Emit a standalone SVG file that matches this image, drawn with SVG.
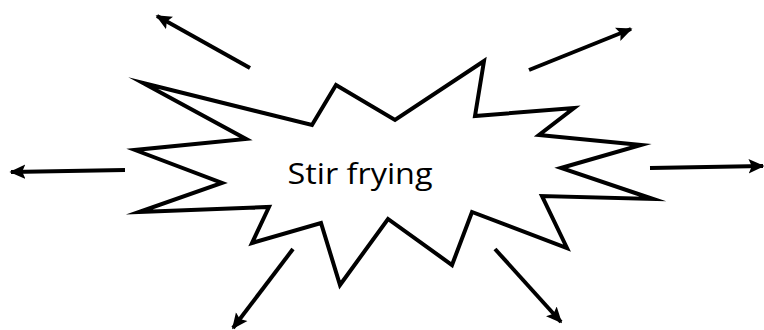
<svg xmlns="http://www.w3.org/2000/svg" width="764" height="330" viewBox="0 0 764 330">
<defs>
<marker id="ah" viewBox="0 0 10 10" refX="9" refY="5" markerWidth="4" markerHeight="4" orient="auto" markerUnits="strokeWidth">
<path d="M0,0.5 L10,5 L0,9.5 L2,5 Z" fill="#000"/>
</marker>
</defs>
<style>
.star{fill:#fff;stroke:#000;stroke-width:4;stroke-linejoin:miter;stroke-miterlimit:20}
.arr{fill:none;stroke:#000;stroke-width:4;marker-end:url(#ah)}
.lbl{font-family:"Open Sans","Liberation Sans",sans-serif;font-size:30px;fill:#000}
</style>
<rect width="764" height="330" fill="#fff"/>
<g id="burst">
<polygon class="star" points="143,83 312,125 336,85 395,120 484,61 475,116 574,108 539,135 641,145 561,168 653,199 542,196 567,248 472,212 452,265 388,219 340,285 321,223 252,243 269,207 139,212 222,183 135,150 246,139"/>
<text class="lbl" x="360" y="184" text-anchor="middle" textLength="145" lengthAdjust="spacingAndGlyphs">Stir frying</text>
</g>
<g id="connectors">
<line class="arr" x1="250" y1="68" x2="157" y2="16"/>
<line class="arr" x1="529" y1="70" x2="631" y2="29"/>
<line class="arr" x1="125" y1="170" x2="11" y2="172"/>
<line class="arr" x1="650" y1="168" x2="763" y2="166"/>
<line class="arr" x1="293" y1="249" x2="233" y2="328"/>
<line class="arr" x1="495" y1="249" x2="561" y2="322"/>
</g>
</svg>
